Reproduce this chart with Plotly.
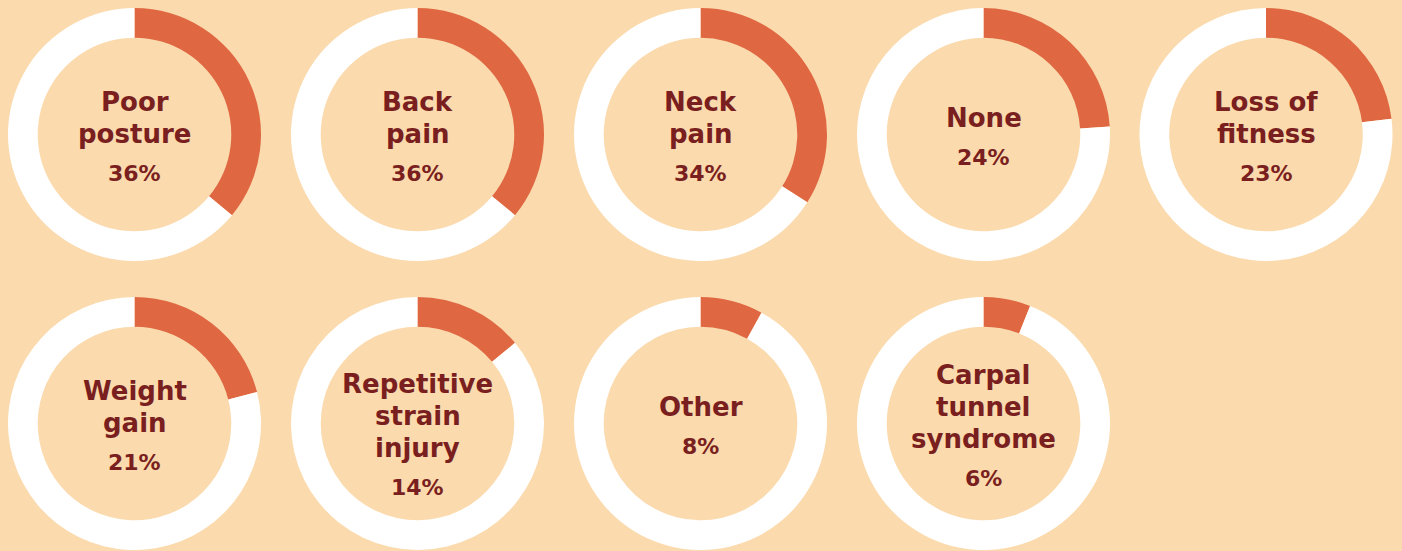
import plotly.graph_objects as go

# Share of respondents reporting each issue (%)
labels = ["Poor<br>posture", "Back<br>pain", "Neck<br>pain", "None", "Loss of<br>fitness",
          "Weight<br>gain", "Repetitive<br>strain<br>injury", "Other", "Carpal<br>tunnel<br>syndrome"]
values = [36, 36, 34, 24, 23, 21, 14, 8, 6]

W, H = 1402, 551
BG = "#FBDAAD"
ORANGE = "#DF6843"
WHITE = "#FFFFFF"
TEXT = "#7A1F20"
FONT = "DejaVu Sans"
LABEL_SIZE = 26
PCT_SIZE = 22

# grid placement (pixels): five donuts on the top row, four below
col_x = [134.5, 417.5, 700.5, 983.5, 1266]
row_y = [134.5, 423.5]
R = 126.5

fig = go.Figure()
annotations = []
for i, (lab, val) in enumerate(zip(labels, values)):
    cx = col_x[i % 5]
    cy = row_y[i // 5]
    fig.add_trace(go.Pie(
        values=[val, 100 - val],
        marker=dict(colors=[ORANGE, WHITE], line=dict(width=0)),
        hole=0.765,
        sort=False,
        direction="clockwise",
        rotation=0,
        textinfo="none",
        hoverinfo="skip",
        showlegend=False,
        domain=dict(x=[(cx - R) / W, (cx + R) / W],
                    y=[(H - cy - R) / H, (H - cy + R) / H]),
    ))

    lines = lab.split("<br>")
    n = len(lines)
    spacing = 32
    gap = 38
    # text baselines, centred a little below the donut centre
    total = (n - 1) * spacing + gap
    first = 12 - total / 2
    nudge = 9 if lines[0] == "Repetitive" else 0
    for k, ln in enumerate(lines):
        base = first + k * spacing + nudge
        annotations.append(dict(
            x=cx / W, y=(H - cy) / H, xref="paper", yref="paper",
            text=ln, showarrow=False, xanchor="center", yanchor="middle",
            yshift=-(base - 0.35 * LABEL_SIZE),
            font=dict(family=FONT, size=LABEL_SIZE, color=TEXT, weight="bold"),
        ))
    base = first + (n - 1) * spacing + gap + nudge
    annotations.append(dict(
        x=cx / W, y=(H - cy) / H, xref="paper", yref="paper",
        text=f"{val}%", showarrow=False, xanchor="center", yanchor="middle",
        yshift=-(base - 0.35 * PCT_SIZE),
        font=dict(family=FONT, size=PCT_SIZE, color=TEXT, weight="bold"),
    ))

fig.update_layout(
    width=W, height=H,
    margin=dict(l=0, r=0, t=0, b=0),
    paper_bgcolor=BG, plot_bgcolor=BG,
    annotations=annotations,
)

fig.write_html("out.html")
